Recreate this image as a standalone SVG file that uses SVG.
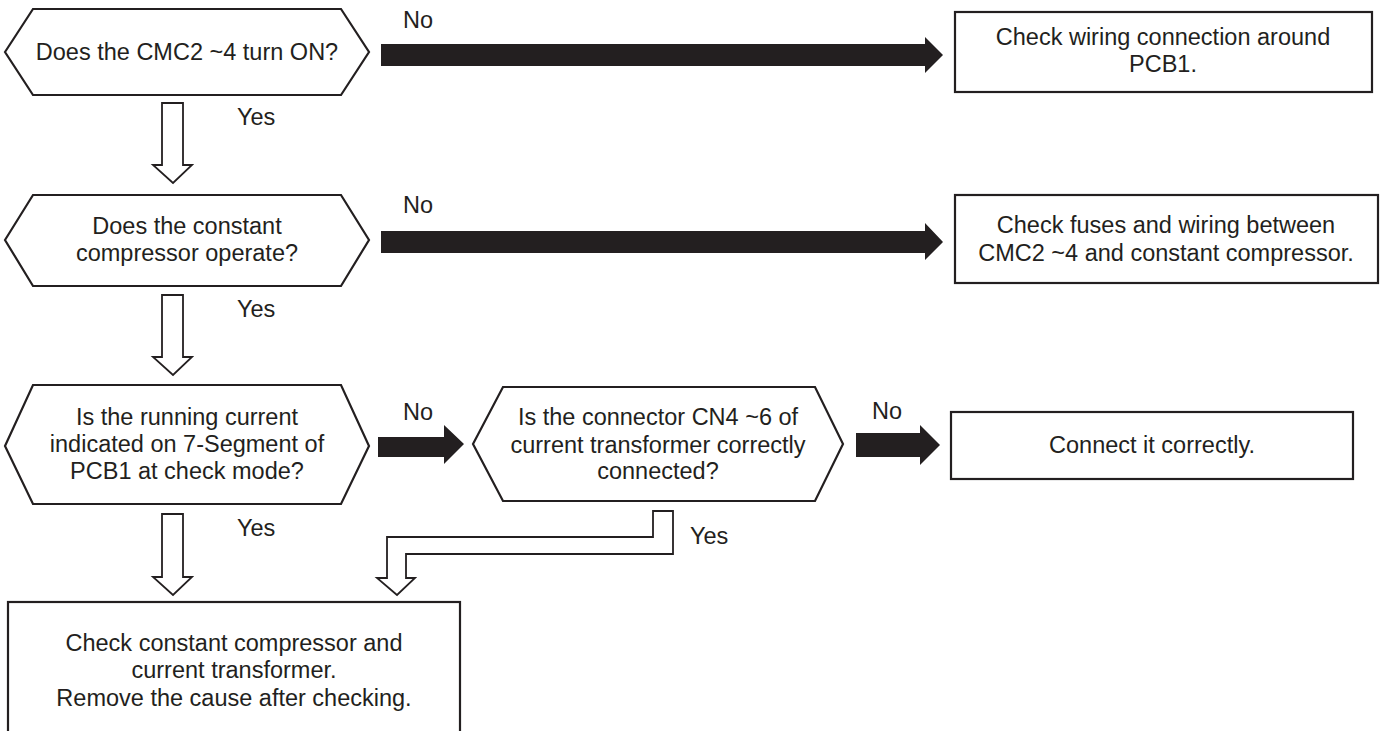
<svg xmlns="http://www.w3.org/2000/svg" width="1381" height="731" viewBox="0 0 1381 731">
<style>
.shape{fill:#ffffff;stroke:#231f20;stroke-width:2.2}
.hollow{fill:#ffffff;stroke:#231f20;stroke-width:1.8}
.solid{fill:#231f20;stroke:none}
text{font-family:"Liberation Sans",Arial,sans-serif;font-size:23.5px;fill:#231f20}
.c{text-anchor:middle}
</style>
<rect width="1381" height="731" fill="#ffffff"/>
<g id="q1">
<polygon class="shape" points="5,52 33,9 341,9 369,52 341,95 33,95"/>
<text class="c" x="187" y="60">Does the CMC2 ~4 turn ON?</text>
</g>
<g id="q2">
<polygon class="shape" points="5,240 33,195 341,195 369,240 341,286 33,286"/>
<text class="c" x="187" y="234">Does the constant</text>
<text class="c" x="187" y="261">compressor operate?</text>
</g>
<g id="q3">
<polygon class="shape" points="5,446 33,385 341,385 369,446 341,504 33,504"/>
<text class="c" x="187" y="425">Is the running current</text>
<text class="c" x="187" y="452">indicated on 7-Segment of</text>
<text class="c" x="187" y="479">PCB1 at check mode?</text>
</g>
<g id="q4">
<polygon class="shape" points="473,444 503,387 815,387 843,444 815,501 503,501"/>
<text class="c" x="658" y="425">Is the connector CN4 ~6 of</text>
<text class="c" x="658" y="453">current transformer correctly</text>
<text class="c" x="658" y="479">connected?</text>
</g>
<g id="r1">
<rect class="shape" x="955" y="12" width="417" height="80"/>
<text class="c" x="1163" y="45">Check wiring connection around</text>
<text class="c" x="1163" y="72">PCB1.</text>
</g>
<g id="r2">
<rect class="shape" x="955" y="195" width="423" height="88"/>
<text class="c" x="1166" y="233">Check fuses and wiring between</text>
<text class="c" x="1166" y="261">CMC2 ~4 and constant compressor.</text>
</g>
<g id="r3">
<rect class="shape" x="951" y="412" width="402" height="67"/>
<text class="c" x="1152" y="453">Connect it correctly.</text>
</g>
<g id="r4">
<rect class="shape" x="8" y="602" width="452" height="140"/>
<text class="c" x="234" y="651">Check constant compressor and</text>
<text class="c" x="234" y="678">current transformer.</text>
<text class="c" x="234" y="706">Remove the cause after checking.</text>
</g>
<g id="connectors">
<polygon class="solid" points="381,44 925,44 925,37 943,55 925,73 925,66 381,66"/>
<polygon class="solid" points="381,231 925,231 925,223 943,242 925,260 925,253 381,253"/>
<polygon class="solid" points="378,437 444,437 444,425 464,444 444,464 444,457 378,457"/>
<polygon class="solid" points="856,433 920,433 920,425 940,445 920,465 920,457 856,457"/>
<polygon class="hollow" points="162,103 183,103 183,165 192,165 173,183 153,165 162,165"/>
<polygon class="hollow" points="162,295 183,295 183,357 192,357 173,375 153,357 162,357"/>
<polygon class="hollow" points="162,514 183,514 183,577 192,577 173,595 153,577 162,577"/>
<polygon class="hollow" points="653,511 673,511 673,554 406,554 406,578 415,578 397,595 377,578 387,578 387,537 653,537"/>
<text x="403" y="28">No</text>
<text x="403" y="213">No</text>
<text x="403" y="420">No</text>
<text x="872" y="419">No</text>
<text x="237" y="125">Yes</text>
<text x="237" y="317">Yes</text>
<text x="237" y="536">Yes</text>
<text x="690" y="544">Yes</text>
</g>
</svg>
